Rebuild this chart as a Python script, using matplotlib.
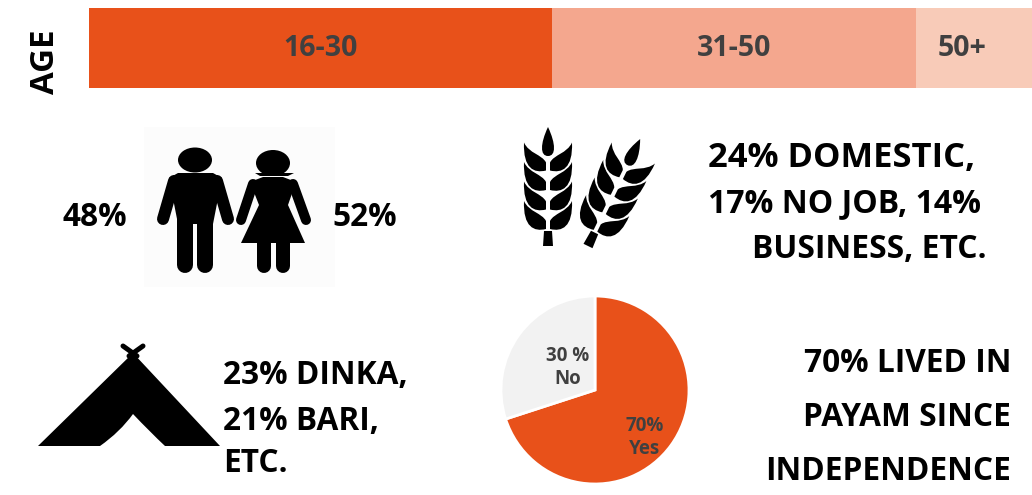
import matplotlib
matplotlib.use('Agg')
import matplotlib.pyplot as plt
from matplotlib.patches import Ellipse, PathPatch, Polygon, Rectangle
from matplotlib.path import Path
from matplotlib.transforms import Affine2D

plt.rcParams['font.family'] = ['Open Sans', 'DejaVu Sans']

age_labels = ['16-30', '31-50', '50+']
age_values = [49.1, 38.6, 12.3]
age_colors = ['#e8511a', '#f4a78e', '#f8cbb8']
gender_labels = ['48%', '52%']
job_lines = ['24% DOMESTIC,', '17% NO JOB, 14%', 'BUSINESS, ETC.']
tribe_lines = ['23% DINKA,', '21% BARI,', 'ETC.']
payam_lines = ['70% LIVED IN', 'PAYAM SINCE', 'INDEPENDENCE']
pie_values = [70, 30]
pie_labels = ['70%\nYes', '30 %\nNo']
pie_colors = ['#e8511a', '#f2f2f2']

W, H = 1032, 495
grey = '#404040'
big = 22.8

fig = plt.figure(figsize=(W / 100, H / 100), dpi=100)

# whole figure in pixels, for the icons and the big text
ax = fig.add_axes([0, 0, 1, 1])
ax.set_xlim(0, W)
ax.set_ylim(H, 0)
ax.axis('off')


def axes_px(x0, y0, x1, y1):
    return fig.add_axes([x0 / W, 1 - y1 / H, (x1 - x0) / W, (y1 - y0) / H])


# age bar
bar_ax = axes_px(89, 8, 1032, 88)
left = 0
for lab, val, col in zip(age_labels, age_values, age_colors):
    bar_ax.barh(0, val, left=left, height=1, color=col)
    # the last label sits left of its segment centre in the original
    nudge = -1.25 if lab == '50+' else 0
    bar_ax.text(left + val / 2 + nudge, 0, lab, ha='center', va='center', fontsize=20.5,
                fontweight='bold', color=grey)
    left += val
bar_ax.set_xlim(0, 100)
bar_ax.set_ylim(-0.5, 0.5)
bar_ax.axis('off')

ax.text(46, 62, 'AGE', rotation=90, ha='center', va='center', fontsize=23.8,
        fontweight='bold', color='black')

# people icon
ax.add_patch(Rectangle((144, 127), 191, 160, color='#fcfcfc', lw=0))


def limb(pts, w):
    ax.plot([p[0] for p in pts], [p[1] for p in pts], color='black', lw=w * 0.72,
            solid_capstyle='round', solid_joinstyle='round')


ax.add_patch(Ellipse((195, 160), 34, 25, color='black', lw=0))
ax.add_patch(Polygon([(169, 178), (178, 173), (213, 173), (222, 178), (213, 224), (178, 224)],
                     color='black', lw=0))
limb([(174, 181), (163, 219)], 12)
limb([(217, 181), (228, 219)], 12)
limb([(185, 215), (185, 265)], 16)
limb([(205, 215), (205, 265)], 16)

ax.add_patch(Ellipse((273, 163), 34, 26, color='black', lw=0))
ax.add_patch(Polygon([(255, 173), (294, 173), (288, 176), (260, 176)], color='black', lw=0))
ax.add_patch(Polygon([(250, 182), (263, 177), (283, 177), (296, 182), (288, 205), (305, 243), (241, 243), (259, 205)],
                     color='black', lw=0))
limb([(253, 184), (241, 220)], 10)
limb([(293, 184), (306, 220)], 10)
limb([(264, 240), (264, 266)], 14)
limb([(283, 240), (283, 266)], 14)

ax.text(95, 217, gender_labels[0], ha='center', va='center', fontsize=big, fontweight='bold', color='black')
ax.text(365, 217, gender_labels[1], ha='center', va='center', fontsize=big, fontweight='bold', color='black')

# wheat icon, one ear drawn upright from the stem bottom and then placed
grain = Path([(-2, 0), (-14, -3), (-25, 2), (-24, 28), (-19, 17), (-6, 16), (-2, 8), (-2, 0)],
             [Path.MOVETO, Path.CURVE4, Path.CURVE4, Path.CURVE4, Path.CURVE4, Path.CURVE4, Path.CURVE4, Path.CLOSEPOLY])
top_grain = Path([(0, 0), (-8, 0), (-8, 12), (0, 29), (8, 12), (8, 0), (0, 0), (0, 0)],
                 [Path.MOVETO, Path.CURVE4, Path.CURVE4, Path.CURVE4, Path.CURVE4, Path.CURVE4, Path.CURVE4, Path.CLOSEPOLY])
stem = Path([(-5, 0), (5, 0), (4, 15), (-4, 15), (-5, 0)],
            [Path.MOVETO, Path.LINETO, Path.LINETO, Path.LINETO, Path.CLOSEPOLY])


def ear(x, y, angle):
    # y points down on the pixel axes, so flip the local shape
    place = Affine2D().scale(1, -1).rotate_deg(angle).translate(x, y)
    for p, shift in [(stem, 0), (top_grain, 90)]:
        ax.add_patch(PathPatch(p, fc='black', ec='none',
                               transform=Affine2D().translate(0, shift) + place + ax.transData))
    for row in [17, 36.5, 56, 75.5]:
        for flip in [1, -1]:
            t = Affine2D().scale(flip, 1).translate(0, row)
            ax.add_patch(PathPatch(grain, fc='black', ec='none', transform=t + place + ax.transData))


ear(548, 246, 0)
ear(588, 246, 26)

for txt, x, y, ha, size in zip(job_lines, [708, 708, 987], [158, 204, 250], ['left', 'left', 'right'], [24.8, 23, 22.9]):
    ax.text(x, y, txt, ha=ha, va='center', fontsize=size, fontweight='bold', color='black')

# tent icon
tent = Path([(38, 446), (133, 353), (220, 446), (165, 446), (150, 432), (133, 414), (120, 432), (100, 446), (38, 446)],
            [Path.MOVETO, Path.LINETO, Path.LINETO, Path.LINETO, Path.CURVE3, Path.CURVE3, Path.CURVE3, Path.CURVE3, Path.CLOSEPOLY])
ax.add_patch(PathPatch(tent, fc='black', ec='none'))
ax.plot([123, 137], [346, 356], color='black', lw=3.6, solid_capstyle='round')
ax.plot([143, 129], [346, 356], color='black', lw=3.6, solid_capstyle='round')

for txt, y in zip(tribe_lines, [375, 421, 464]):
    ax.text(223, y, txt, ha='left', va='center', fontsize=big, fontweight='bold', color='black')

# pie
pie_ax = axes_px(501, 296, 689, 484)
pie_ax.pie(pie_values, colors=pie_colors, startangle=90, counterclock=False, radius=1,
           wedgeprops={'edgecolor': 'white', 'linewidth': 2})
pie_ax.set_xlim(-1, 1)
pie_ax.set_ylim(-1, 1)
pie_ax.text(0.53, -0.51, pie_labels[0], ha='center', va='center', fontsize=13.5, fontweight='bold',
            color=grey, linespacing=1.2)
pie_ax.text(-0.29, 0.24, pie_labels[1], ha='center', va='center', fontsize=13.5, fontweight='bold',
            color=grey, linespacing=1.2)

for txt, y in zip(payam_lines, [364, 417, 471]):
    ax.text(1011, y, txt, ha='right', va='center', fontsize=big, fontweight='bold', color='black')

fig.savefig('out.png', dpi=100)
